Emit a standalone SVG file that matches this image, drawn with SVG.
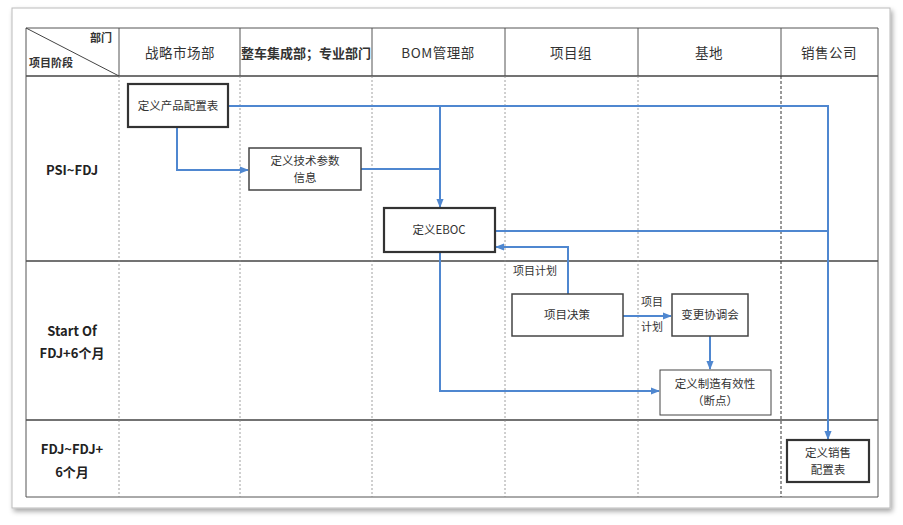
<svg xmlns="http://www.w3.org/2000/svg" width="903" height="525" viewBox="0 0 903 525">
<defs>
<filter id="sh" x="-5%" y="-5%" width="110%" height="110%">
<feDropShadow dx="2" dy="3" stdDeviation="2.5" flood-color="#000" flood-opacity="0.35"/>
</filter>
<marker id="ar2" viewBox="0 0 10 10" refX="9" refY="5" markerWidth="9" markerHeight="9" orient="auto" markerUnits="userSpaceOnUse">
<path d="M0,1 L10,5 L0,9 z" fill="#4f87d0"/>
</marker>
</defs>
<style>
text{font-family:"Noto Sans CJK SC","Liberation Sans",sans-serif;fill:#333;}
.hd{font-size:13.5px;text-anchor:middle;letter-spacing:0.5px;}
.rl{font-size:13px;font-weight:bold;text-anchor:middle;fill:#222;}
.nt{font-size:11.5px;text-anchor:middle;}
.lb{font-size:11px;}
.sol{stroke:#444;stroke-width:1.5;fill:none;}
.hv{stroke:#555;stroke-width:1;fill:none;}
.dot{stroke:#888;stroke-width:0.8;stroke-dasharray:2,2;fill:none;}
.dsh{stroke:#333;stroke-width:1;stroke-dasharray:3,2;fill:none;}
.box{fill:#fff;stroke:#444;stroke-width:1.5;}
.bxk{fill:#fff;stroke:#333;stroke-width:2.2;}
.bxt{fill:#fff;stroke:#444;stroke-width:1;}
.cn{stroke:#4f87d0;stroke-width:2;fill:none;}
</style>
<rect x="0" y="0" width="903" height="525" fill="#fff"/>
<rect x="12" y="8" width="878" height="500" fill="#fff" stroke="#bbb" stroke-width="1" filter="url(#sh)"/>
<g id="table">
<rect x="26" y="28" width="852" height="469" fill="#fff" stroke="none"/>
<line class="hv" x1="26" y1="28" x2="878" y2="28"/>
<line class="sol" x1="26" y1="76" x2="878" y2="76"/>
<line class="sol" x1="26" y1="261" x2="878" y2="261"/>
<line class="sol" x1="26" y1="420" x2="878" y2="420"/>
<line class="hv" x1="26" y1="28" x2="26" y2="497"/>
<line class="hv" x1="878" y1="28" x2="878" y2="497" stroke="#bbb"/>
<line class="hv" x1="26" y1="497" x2="878" y2="497" stroke="#ddd"/>
<line class="hv" x1="119" y1="28" x2="119" y2="76"/>
<line class="hv" x1="240" y1="28" x2="240" y2="76"/>
<line class="hv" x1="372" y1="28" x2="372" y2="76"/>
<line class="hv" x1="505" y1="28" x2="505" y2="76"/>
<line class="hv" x1="638" y1="28" x2="638" y2="76"/>
<line class="hv" x1="781" y1="28" x2="781" y2="76" stroke="#222"/>
<line class="dot" x1="119" y1="76" x2="119" y2="497"/>
<line class="dot" x1="240" y1="76" x2="240" y2="497"/>
<line class="dot" x1="372" y1="76" x2="372" y2="497"/>
<line class="dot" x1="505" y1="76" x2="505" y2="497"/>
<line class="dot" x1="638" y1="76" x2="638" y2="497"/>
<line class="dsh" x1="781" y1="76" x2="781" y2="497"/>
<line x1="26" y1="28" x2="119" y2="76" stroke="#444" stroke-width="1"/>
<text x="112" y="42" font-size="11" font-weight="bold" text-anchor="end" fill="#222">部门</text>
<text x="29" y="67" font-size="11" font-weight="bold" fill="#222">项目阶段</text>
<text class="hd" x="180" y="58">战略市场部</text>
<text x="306" y="58" font-size="13" font-weight="bold" text-anchor="middle" fill="#222">整车集成部；专业部门</text>
<text class="hd" x="438" y="58">BOM管理部</text>
<text class="hd" x="571" y="58">项目组</text>
<text class="hd" x="709" y="58">基地</text>
<text class="hd" x="829" y="58">销售公司</text>
<text class="rl" x="72" y="175">PSI~FDJ</text>
<text class="rl" x="72" y="336">Start Of</text>
<text class="rl" x="72" y="358">FDJ+6个月</text>
<text class="rl" x="72" y="454">FDJ~FDJ+</text>
<text class="rl" x="72" y="477">6个月</text>
</g>
<g id="connectors">
<polyline class="cn" points="228,106 828,106 828,439" marker-end="url(#ar2)"/>
<polyline class="cn" points="440,106 440,207" marker-end="url(#ar2)"/>
<polyline class="cn" points="177,127 177,170 248,170" marker-end="url(#ar2)"/>
<polyline class="cn" points="361,169 440,169"/>
<polyline class="cn" points="495,231 828,231"/>
<polyline class="cn" points="568,294 568,247 496,247" marker-end="url(#ar2)"/>
<polyline class="cn" points="623,316 671,316" marker-end="url(#ar2)"/>
<polyline class="cn" points="710,336 710,369" marker-end="url(#ar2)"/>
<polyline class="cn" points="440,252 440,391 659,391" marker-end="url(#ar2)"/>
<text class="lb" x="513" y="275">项目计划</text>
<text class="lb" x="641" y="306">项目</text>
<text class="lb" x="641" y="331">计划</text>
</g>
<g id="n1"><rect class="bxk" x="128" y="84" width="100" height="43"/><text class="nt" x="178" y="110">定义产品配置表</text></g>
<g id="n2"><rect class="box" x="249" y="148" width="112" height="42"/><text class="nt" x="305" y="165">定义技术参数</text><text class="nt" x="305" y="182">信息</text></g>
<g id="n3"><rect class="bxk" x="384" y="208" width="111" height="44"/><text class="nt" x="439" y="234">定义EBOC</text></g>
<g id="n4"><rect class="box" x="512" y="294" width="111" height="42"/><text class="nt" x="567" y="319">项目决策</text></g>
<g id="n5"><rect class="box" x="672" y="294" width="76" height="42"/><text class="nt" x="710" y="319">变更协调会</text></g>
<g id="n6"><rect class="bxt" x="660" y="370" width="111" height="45"/><text class="nt" x="715" y="388">定义制造有效性</text><text class="nt" x="715" y="405">（断点）</text></g>
<g id="n7"><rect class="bxk" x="787" y="440" width="82" height="42"/><text class="nt" x="828" y="457">定义销售</text><text class="nt" x="828" y="474">配置表</text></g>
</svg>
